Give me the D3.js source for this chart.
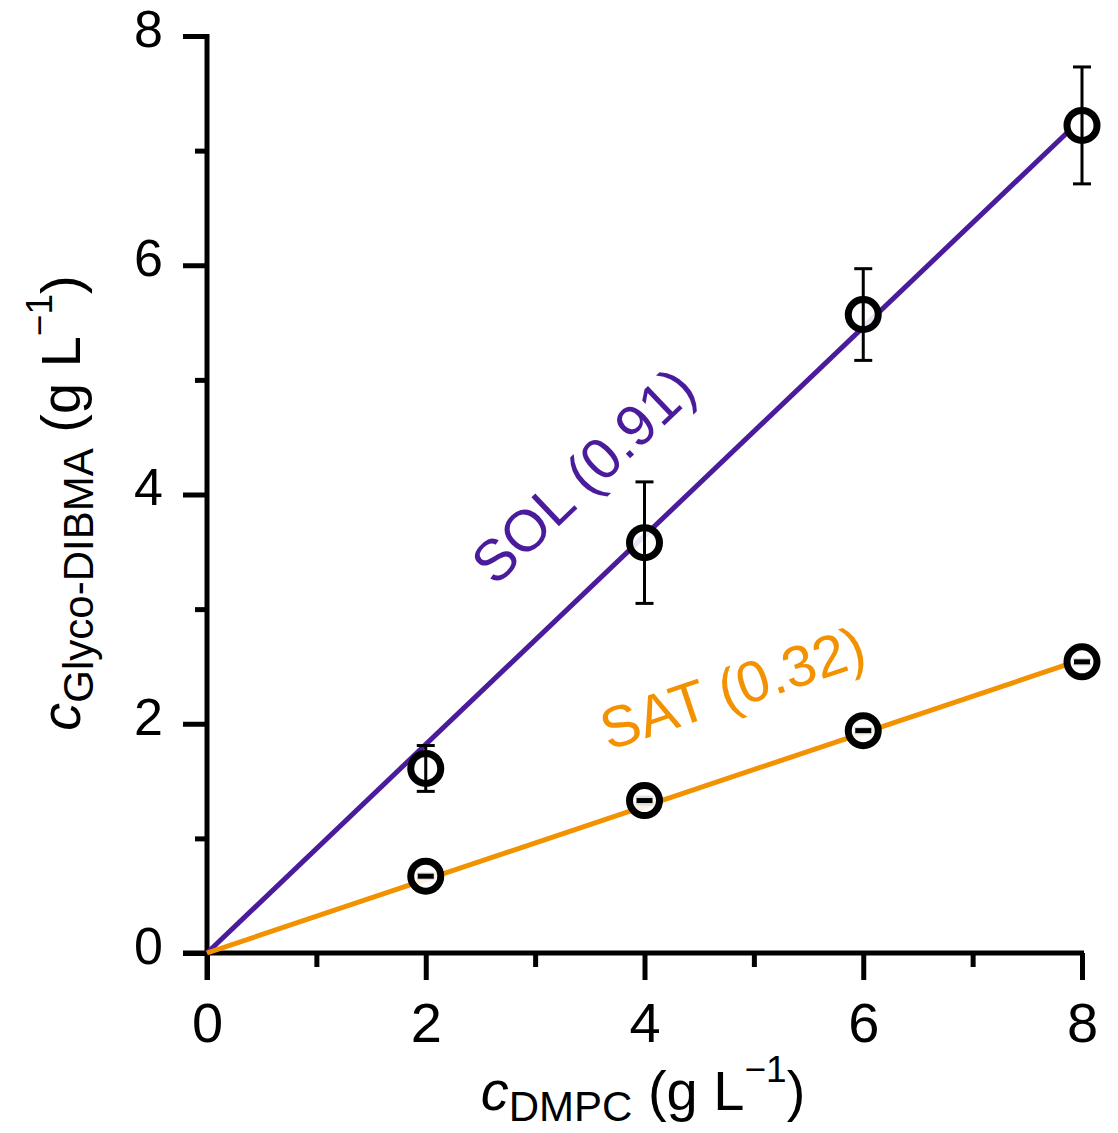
<!DOCTYPE html>
<html>
<head>
<meta charset="utf-8">
<script src="https://cdn.jsdelivr.net/npm/d3@7"></script>
<style>
  body { margin: 0; background: #fff; }
  svg { font-family: "Liberation Sans", Arial, sans-serif; }
</style>
</head>
<body>
<svg id="chart" width="1118" height="1133"></svg>
<script>
const dmpc = [2, 4, 6, 8];
const solValues = [1.61, 3.58, 5.57, 7.22];
const solErrors = [0.2, 0.53, 0.4, 0.51];
const satValues = [0.67, 1.33, 1.94, 2.54];
const satErrors = [0.02, 0.03, 0.02, 0.02];
const fitSlopes = { SOL: 0.91, SAT: 0.32 };
const majorTicks = [0, 2, 4, 6, 8];
const minorTicks = [1, 3, 5, 7];

const svg = d3.select('#chart');
const x = d3.scaleLinear().domain([0, 8]).range([207, 1082]);
const y = d3.scaleLinear().domain([0, 8]).range([953, 36]);

const purple = '#4a1c9c';
const orange = '#f39200';

// axes
const xAxis = svg.append('g').attr('transform', `translate(0,${y(0)})`);
xAxis.call(d3.axisBottom(x).tickValues(majorTicks).tickSize(27).tickPadding(22).tickSizeOuter(0));
xAxis.selectAll('.tick text').attr('font-size', 56);
xAxis.append('g').call(d3.axisBottom(x).tickValues(minorTicks).tickSize(14).tickFormat(''));

const yAxis = svg.append('g').attr('transform', `translate(${x(0)},0)`);
yAxis.call(d3.axisLeft(y).tickValues(majorTicks).tickSize(24).tickPadding(20).tickSizeOuter(0));
yAxis.selectAll('.tick text').attr('font-size', 52).attr('dy', '0.2em');
yAxis.append('g').call(d3.axisLeft(y).tickValues(minorTicks).tickSize(12).tickFormat(''));

svg.selectAll('.domain').remove();
svg.selectAll('.tick line').attr('stroke', '#000').attr('stroke-width', 5);
svg.selectAll('.tick text').attr('fill', '#000')
  .attr('font-family', '"Liberation Sans", Arial, sans-serif');

svg.append('line')
  .attr('x1', x(0) - 24).attr('x2', x(8) + 2)
  .attr('y1', y(0)).attr('y2', y(0))
  .attr('stroke', '#000').attr('stroke-width', 5);
svg.append('line')
  .attr('x1', x(0)).attr('x2', x(0))
  .attr('y1', y(8) - 2).attr('y2', y(0) + 27)
  .attr('stroke', '#000').attr('stroke-width', 5);

// fit lines
const fits = [
  { name: 'SOL', slope: fitSlopes.SOL, color: purple },
  { name: 'SAT', slope: fitSlopes.SAT, color: orange }
];
const line = d3.line().x(d => x(d[0])).y(d => y(d[1]));
fits.forEach(f => {
  svg.append('path')
    .datum([[0, 0], [7.88, 7.88 * f.slope]])
    .attr('fill', 'none')
    .attr('stroke', f.color)
    .attr('stroke-width', 5)
    .attr('d', line);
});

// points with error bars
function drawSeries(values, errors) {
  const g = svg.append('g');
  const data = dmpc.map((d, i) => ({ x: d, y: values[i], e: errors[i] }));
  const bars = g.selectAll('.err').data(data).enter().append('g')
    .attr('stroke', '#000').attr('stroke-width', 3);
  bars.append('line')
    .attr('x1', d => x(d.x)).attr('x2', d => x(d.x))
    .attr('y1', d => y(d.y - d.e)).attr('y2', d => y(d.y + d.e));
  [-1, 1].forEach(s => {
    bars.append('line')
      .attr('x1', d => x(d.x) - 9).attr('x2', d => x(d.x) + 9)
      .attr('y1', d => y(d.y + s * d.e)).attr('y2', d => y(d.y + s * d.e));
  });
  g.selectAll('circle').data(data).enter().append('circle')
    .attr('cx', d => x(d.x)).attr('cy', d => y(d.y))
    .attr('r', 15)
    .attr('fill', 'rgba(255,255,255,0.88)')
    .attr('stroke', '#000')
    .attr('stroke-width', 7);
  // error bar through the marker fill
  g.selectAll('.inner').data(data.filter(d => d.e >= 0.1)).enter().append('line')
    .attr('stroke', '#000').attr('stroke-width', 3)
    .attr('x1', d => x(d.x)).attr('x2', d => x(d.x))
    .attr('y1', d => y(d.y) - 12)
    .attr('y2', d => y(d.y) + 12);
  g.selectAll('.dash').data(data.filter(d => d.e < 0.1)).enter().append('line')
    .attr('stroke', '#000').attr('stroke-width', 5)
    .attr('x1', d => x(d.x) - 8).attr('x2', d => x(d.x) + 8)
    .attr('y1', d => y(d.y)).attr('y2', d => y(d.y));
}
drawSeries(solValues, solErrors);
drawSeries(satValues, satErrors);

// fit labels, placed along each line
function angleOf(slope) {
  return Math.atan2(y(slope) - y(0), x(1) - x(0)) * 180 / Math.PI;
}
function fitLabel(name, slope, at, offset, color) {
  svg.append('text')
    .attr('transform', `translate(${x(at)},${y(at * slope)}) rotate(${angleOf(slope)})`)
    .attr('y', -offset)
    .attr('text-anchor', 'middle')
    .attr('font-size', 58)
    .attr('fill', color)
    .text(`${name} (${slope.toFixed(2)})`);
}
fitLabel('SOL', fitSlopes.SOL, 3.98, 66, purple);
fitLabel('SAT', fitSlopes.SAT, 5.05, 64, orange);

// axis titles
const xt = svg.append('text')
  .attr('x', 643).attr('y', 1110)
  .attr('text-anchor', 'middle')
  .attr('font-size', 56)
  .attr('fill', '#000');
xt.append('tspan').attr('font-style', 'italic').text('c');
xt.append('tspan').attr('font-size', 42).attr('dy', 11).text('DMPC');
xt.append('tspan').attr('dy', -11).text(' (g L');
xt.append('tspan').attr('font-size', 37).attr('dy', -28).text('\u22121');
xt.append('tspan').attr('dy', 28).text(')');

const yt = svg.append('text')
  .attr('transform', 'translate(80,503) rotate(-90)')
  .attr('text-anchor', 'middle')
  .attr('font-size', 56)
  .attr('fill', '#000');
yt.append('tspan').attr('font-style', 'italic').text('c');
yt.append('tspan').attr('font-size', 42).attr('dy', 13).text('Glyco-DIBMA');
yt.append('tspan').attr('dy', -13).text(' (g L');
yt.append('tspan').attr('font-size', 37).attr('dy', -28).text('\u22121');
yt.append('tspan').attr('dy', 28).text(')');
</script>
</body>
</html>
